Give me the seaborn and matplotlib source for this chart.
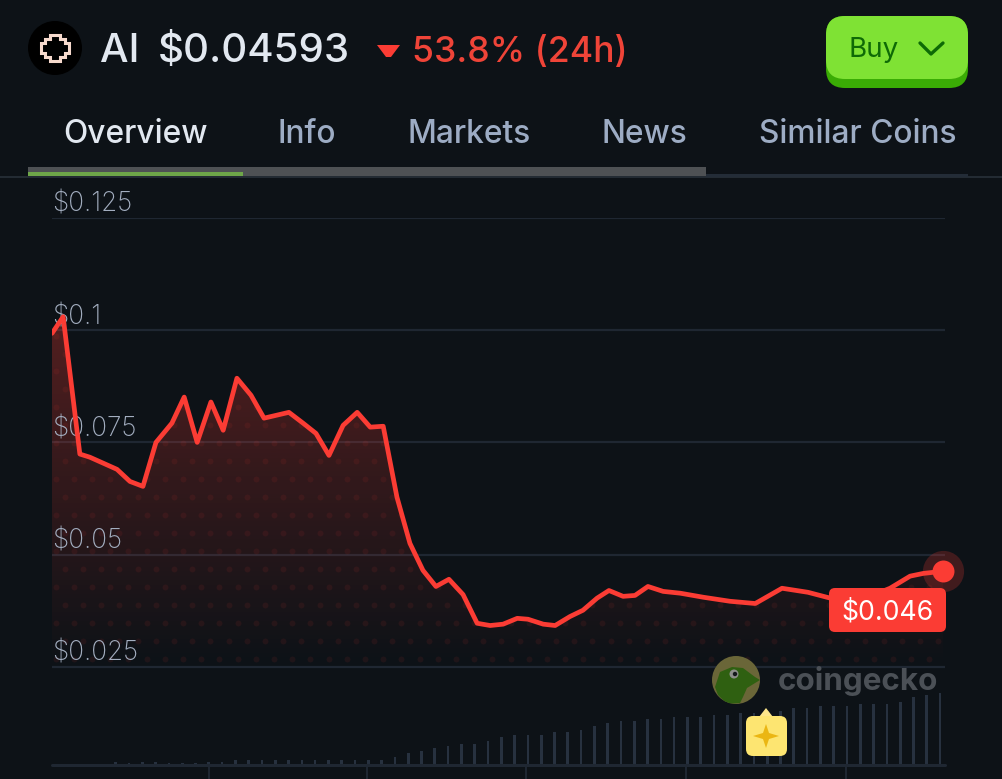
import numpy as np
import seaborn as sns
from matplotlib import pyplot as plt
from matplotlib.patches import Circle, FancyBboxPatch, Polygon, Rectangle

# price chart
hours = [0.0, 0.30, 0.75, 1.02, 1.75, 2.10, 2.45, 2.80, 3.23, 3.56, 3.91, 4.28, 4.61, 4.98,
         5.36, 5.71, 6.38, 6.76, 7.11, 7.46, 7.84, 8.22, 8.57, 8.92, 9.29, 9.64, 9.99, 10.34,
         10.69, 11.07, 11.45, 11.80, 12.15, 12.53, 12.82, 13.23, 13.55, 13.95, 14.30, 14.68,
         15.00, 15.38, 15.70, 16.05, 16.46, 16.92, 17.54, 18.26, 18.94, 19.66, 20.36, 20.96,
         21.76, 22.57, 23.11, 23.46, 24.0]
price = [0.0993, 0.1030, 0.0724, 0.0717, 0.0690, 0.0663, 0.0652, 0.0750, 0.0793, 0.0851,
         0.0750, 0.0840, 0.0777, 0.0893, 0.0855, 0.0804, 0.0817, 0.0793, 0.0770, 0.0721,
         0.0788, 0.0817, 0.0784, 0.0786, 0.0628, 0.0525, 0.0465, 0.0429, 0.0445, 0.0411,
         0.0347, 0.0342, 0.0345, 0.0358, 0.0356, 0.0345, 0.0342, 0.0362, 0.0376, 0.0403,
         0.0420, 0.0407, 0.0409, 0.0429, 0.0418, 0.0414, 0.0405, 0.0396, 0.0391, 0.0425,
         0.0416, 0.0403, 0.0398, 0.0425, 0.0452, 0.0458, 0.0463]
volume = [3, 2, 3, 3, 2, 2, 2, 3, 3, 5, 5, 5, 5, 5, 5, 5, 5, 5, 5, 5, 5, 8, 12, 14, 17, 19,
          21, 21, 24, 28, 30, 30, 30, 33, 33, 35, 39, 42, 44, 44, 46, 46, 48, 48, 48, 50, 50,
          52, 52, 54, 54, 57, 57, 59, 59, 59, 61, 61, 61, 63, 68, 70, 72]
price_ticks = [0.025, 0.05, 0.075, 0.1, 0.125]
price_labels = ["$0.025", "$0.05", "$0.075", "$0.1", "$0.125"]
hour_ticks = [4.23, 8.48, 12.77, 17.08, 21.39]
tabs = ["Overview", "Info", "Markets", "News", "Similar Coins"]
tab_left = [63, 278, 408, 602, 759]

BG = "#0d1217"
RED = "#fb3c34"
GRID = "#1f2732"
BAR = "#27313f"

sns.set_theme(style="dark", rc={"axes.facecolor": BG, "figure.facecolor": BG})
plt.rcParams["font.family"] = ["Inter", "DejaVu Sans"]

W, H = 1002, 779
fig = plt.figure(figsize=(W / 100, H / 100), dpi=100)


def px_axes(left, top, right, bottom, **kw):
    return fig.add_axes([left / W, 1 - bottom / H, (right - left) / W, (bottom - top) / H], **kw)


# main price axes
ax = px_axes(52, 218, 945, 779)
ax.set_facecolor("none")
for s in ax.spines.values():
    s.set_visible(False)
ax.set_xlim(0, 24.05)
ax.set_ylim(0, 0.125)
ax.grid(False)
ax.set_axisbelow(False)
for t in price_ticks:
    ax.axhline(t, color=GRID, lw=1.6, zorder=0.5)

area = ax.fill_between(hours, price, 0.025, color="none", lw=0)
grad = np.zeros((256, 2, 4))
grad[..., :3] = (0.98, 0.24, 0.2)
grad[..., 3] = np.linspace(0.31, 0.0, 256)[:, None]
im = ax.imshow(grad, extent=(0, 24.05, 0.025, 0.105), aspect="auto", origin="upper", zorder=1)
im.set_clip_path(area.get_paths()[0], transform=ax.transData)

dot_x, dot_y = [], []
for row, y in enumerate(np.arange(0.0268, 0.104, 0.0040)):
    xs = np.arange(0.1 + (row % 2) * 0.245, 24, 0.49)
    dot_x.extend(xs)
    dot_y.extend([y] * len(xs))
dots = ax.scatter(dot_x, dot_y, s=18, color=RED, alpha=0.08, lw=0, zorder=1.2)
dots.set_clip_path(area.get_paths()[0], transform=ax.transData)

sns.lineplot(x=hours, y=price, color=RED, linewidth=3.4, estimator=None, sort=False, ax=ax, zorder=3)
ax.lines[-1].set_solid_joinstyle("round")
ax.lines[-1].set_solid_capstyle("round")
ax.scatter(hours[-1], price[-1], s=880, color=RED, alpha=0.22, lw=0, zorder=3.5, clip_on=False)
ax.scatter(hours[-1], price[-1], s=250, color=RED, lw=0, zorder=4, clip_on=False)

ax.set_xticks(hour_ticks)
ax.set_yticks(price_ticks)
ax.set_yticklabels(price_labels)
ax.set_xlabel("")
ax.set_ylabel("")
ax.tick_params(axis="x", direction="in", length=10, width=1.4, color=GRID, labelbottom=False, bottom=True)
ax.tick_params(axis="y", length=0, pad=0, labelsize=18.8, labelcolor="#a3aec0", left=False)
for lab in ax.get_yticklabels():
    lab.set_ha("left")
    lab.set_va("bottom")
    lab.set_fontweight("light")

# volume bars
vax = px_axes(52, 665, 945, 765)
vax.set_facecolor("none")
sns.barplot(x=list(range(len(volume))), y=volume, color=BAR, width=0.2, saturation=1, linewidth=0, ax=vax)
vax.set_xlim(-4.79, 62.37)
vax.set_ylim(0, 100)
vax.axhline(0, color=GRID, lw=2.2, clip_on=False)
vax.axis("off")

# header, tabs, badges in pixel coordinates
ui = fig.add_axes([0, 0, 1, 1], facecolor="none")
ui.set_xlim(0, W)
ui.set_ylim(H, 0)
ui.axis("off")

ui.add_patch(Circle((55, 48), 27, color="#000000", lw=0))
ui.add_patch(Polygon([(50, 35), (60, 35), (60, 39), (65, 39), (65, 43), (69, 43), (69, 53), (65, 53),
                      (65, 57), (60, 57), (60, 61), (50, 61), (50, 57), (45, 57), (45, 53), (41, 53),
                      (41, 43), (45, 43), (45, 39), (50, 39)],
                     closed=True, fill=False, ec="#f6d9cc", lw=2.2, joinstyle="miter"))

ui.text(100, 62, "AI", fontsize=29, color="#e2e8f0", weight="medium", va="baseline")
ui.text(158, 62, "$0.04593", fontsize=29, color="#e2e8f0", weight="medium", va="baseline")
ui.add_patch(Polygon([(377, 45), (400, 45), (391, 57), (386, 57)], closed=True, color="#fb3c34", lw=0))
ui.text(412, 62, "53.8% (24h)", fontsize=25.6, color="#ef4438", weight="medium", va="baseline")

ui.add_patch(FancyBboxPatch((826, 16), 142, 72, boxstyle="round,pad=0,rounding_size=19", lw=0, color="#3aac05"))
ui.add_patch(FancyBboxPatch((826, 16), 142, 63, boxstyle="round,pad=0,rounding_size=19", lw=0, color="#7fe234"))
ui.text(849, 57, "Buy", fontsize=20, color="#0e6a06", va="baseline")
ui.plot([920, 931, 943], [43, 54, 43], color="#0e6a06", lw=2.4)

for name, x in zip(tabs, tab_left):
    col = "#e2e8f0" if name == "Overview" else "#9dacc4"
    ui.text(x, 143, name, fontsize=22.8, color=col, weight="medium", va="baseline")

ui.add_patch(Rectangle((0, 176), W, 2, color="#232b33", lw=0))
ui.add_patch(Rectangle((706, 174), 262, 3, color="#232c37", lw=0))
ui.add_patch(Rectangle((28, 167), 678, 9, color="#4e5154", lw=0))
ui.add_patch(Rectangle((28, 172), 215, 4, color="#6ea649", lw=0))

ui.add_patch(FancyBboxPatch((829, 588), 117, 44, boxstyle="round,pad=0,rounding_size=6", lw=0, color=RED))
ui.text(887.5, 612.5, "$0.046", fontsize=19.2, color="#ffffff", ha="center", va="center")

# coingecko watermark
logo = Circle((736, 680), 24, color="#6a6638", lw=0)
ui.add_patch(logo)
body = Polygon([(715, 687), (720, 672), (732, 667), (743, 668), (755, 677), (760, 680), (747, 688),
                (743, 697), (740, 703), (727, 704), (718, 695)], closed=True, color="#2f6011", lw=0)
ui.add_patch(body)
body.set_clip_path(logo)
ui.add_patch(Circle((734, 674), 4.5, color="#8d8f8a", lw=0))
ui.add_patch(Circle((735, 674), 2.2, color="#14181a", lw=0))
ui.text(778, 681, "coingecko", fontsize=22.6, color="#4b5056", weight="bold", va="center")

# sparkle badge
ui.add_patch(Polygon([(759, 717), (766, 708), (773, 717)], closed=True, color="#fde68a", lw=0))
ui.add_patch(FancyBboxPatch((746, 716), 41, 40, boxstyle="round,pad=0,rounding_size=7", lw=0, color="#fde571"))
ui.add_patch(Polygon([(766, 724), (769, 733), (779, 736), (769, 739), (766, 748), (763, 739), (753, 736), (763, 733)],
                     closed=True, color="#ebb613", lw=0))

fig.savefig("out.png", dpi=100, facecolor=BG)
